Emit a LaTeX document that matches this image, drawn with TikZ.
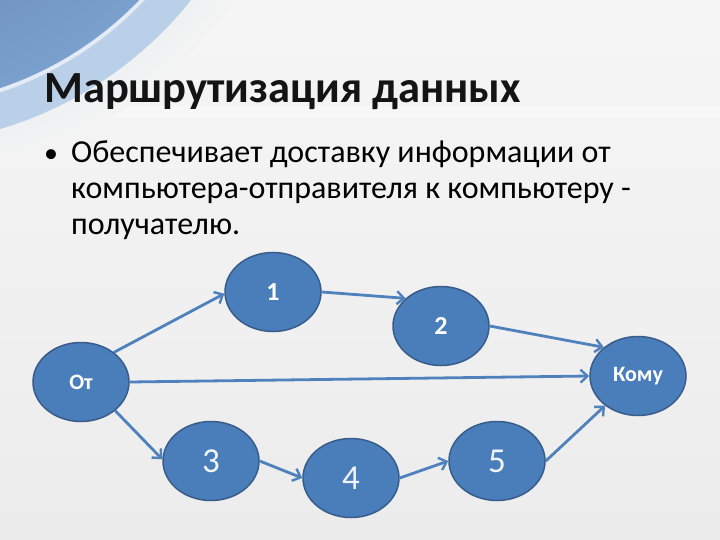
\documentclass[tikz,border=0pt]{standalone}
\usepackage{fontspec}
\setmainfont{Carlito}
\usetikzlibrary{shapes.geometric,arrows.meta}
\definecolor{nodefill}{RGB}{74,126,187}
\definecolor{nodeborder}{RGB}{56,93,138}
\definecolor{arrowblue}{RGB}{79,129,189}
\definecolor{bgray}{RGB}{236,236,236}
\definecolor{swoosh}{RGB}{122,160,205}
\definecolor{swooshlight}{RGB}{186,207,232}
\tikzset{
  netnode/.style={ellipse, fill=nodefill, draw=nodeborder, line width=1.5pt,
    minimum width=96pt, minimum height=79pt, inner sep=0pt, text=white,
    font=\fontsize{22}{26}\selectfont\bfseries},
  smallnum/.style={font=\fontsize{26}{30}\selectfont\bfseries},
  bignum/.style={font=\fontsize{35}{40}\selectfont, text=white!92!nodefill},
  bodyline/.style={anchor=base west, inner sep=0pt, font=\fontsize{32}{38}\selectfont},
  arr/.style={draw=arrowblue, line width=2.8pt,
    -{Straight Barb[length=7pt,width=13pt,line width=2.4pt]}},
}
\begin{document}
\begin{tikzpicture}[x=1pt,y=-1pt]
\useasboundingbox (0,0) rectangle (720,540);
% background
\shade[top color=bgray!50!white, bottom color=bgray] (0,0) rectangle (720,540);
\fill[white, opacity=0.45] (0,106) rectangle (720,118);
\begin{scope}
\clip (0,0) rectangle (720,540);
\shade[inner color=swooshlight, outer color=bgray!60!white, opacity=0.9] (-110,-240) circle (420);
\fill[swooshlight] (-110,-240) circle (385);
\fill[white, opacity=0.6] (-110,-240) circle (350);
\shade[inner color=swoosh!75!black, outer color=swoosh] (-110,-240) circle (346);
\end{scope}
% title
\node[anchor=base west, inner sep=0pt, font=\fontsize{44.5}{50}\selectfont\bfseries, text=black!92]
  (title) at (44,103) {Маршрутизация данных};
% bullet text
\node[bodyline, font=\fontsize{28}{34}\selectfont] (bul) at (44,163) {•};
\node[bodyline] (line1) at (71,163) {Обеспечивает доставку информации от};
\node[bodyline] (line2) at (71,199) {компьютера-отправителя к компьютеру -};
\node[bodyline] (line3) at (71,234) {получателю.};
% nodes
\node[netnode] (ot) at (81,382) {\raisebox{-2pt}{От}};
\node[netnode, smallnum] (n1) at (273,292) {\raisebox{-4pt}{1}};
\node[netnode, smallnum] (n2) at (441,326) {\raisebox{-4pt}{2}};
\node[netnode] (kom) at (638,376) {Кому};
\node[netnode, bignum] (n3) at (211,461) {\raisebox{-6pt}{3}};
\node[netnode, bignum] (n4) at (351,478) {\raisebox{-7pt}{4}};
\node[netnode, bignum] (n5) at (497,461) {\raisebox{-7pt}{5}};
% connectors
\draw[arr] (ot.42) -- (n1.182);
\draw[arr] (n1.east) -- (n2.142);
\draw[arr] (n2.east) -- (kom.140);
\draw[arr] (ot.east) -- (kom.west);
\draw[arr] (ot.-40) -- (n3.178);
\draw[arr] (n3.east) -- (n4.180);
\draw[arr] (n4.east) -- (n5.west);
\draw[arr] (n5.east) -- (kom.222);
\end{tikzpicture}
\end{document}
